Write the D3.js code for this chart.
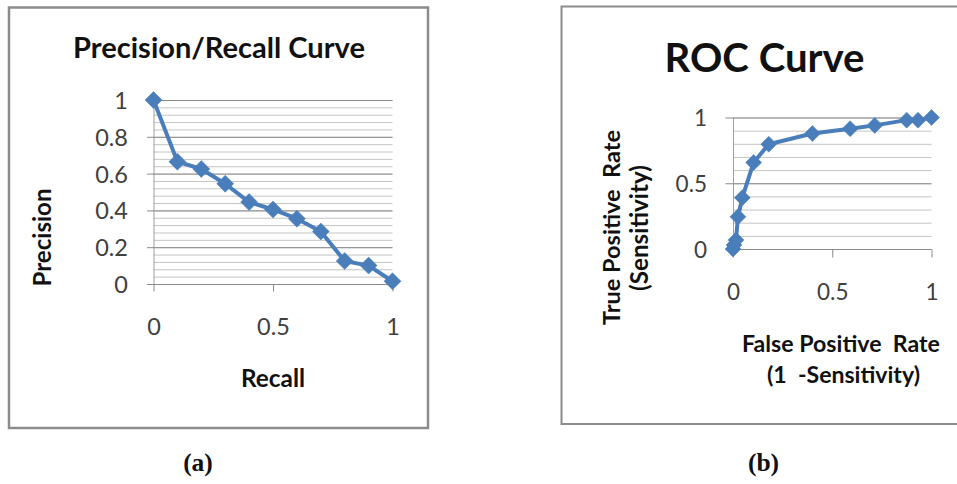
<!DOCTYPE html>
<html>
<head>
<meta charset="utf-8">
<script src="https://cdn.jsdelivr.net/npm/d3@7"></script>
<style>
  html, body { margin: 0; padding: 0; background: #fff; }
  svg { display: block; }
  text { white-space: pre; }
</style>
</head>
<body>
<svg id="fig" width="957" height="484"></svg>
<script>
// ---- data: precision / recall curve ----
const prRecall    = [0, 0.1, 0.2, 0.3, 0.4, 0.5, 0.6, 0.7, 0.8, 0.9, 1.0];
const prPrecision = [1, 0.665, 0.625, 0.545, 0.445, 0.405, 0.355, 0.285, 0.125, 0.10, 0.015];
const prYTicks = [0, 0.2, 0.4, 0.6, 0.8, 1];
const prXTicks = [0, 0.5, 1];

// ---- data: ROC curve ----
const rocFpr = [0, 0.005, 0.015, 0.025, 0.047, 0.104, 0.18, 0.40, 0.59, 0.714, 0.875, 0.932, 1.0];
const rocTpr = [0, 0.03, 0.068, 0.245, 0.39, 0.658, 0.797, 0.878, 0.915, 0.94, 0.98, 0.98, 1.0];
const rocYTicks = [0, 0.5, 1];
const rocXTicks = [0, 0.5, 1];

const BLUE = "#4A7EBB";
const FONT = "Lato, 'Open Sans', sans-serif";
const SERIF = "'Liberation Serif', 'Times New Roman', serif";
const svg = d3.select("#fig");

// set a font size so that the text spans the given width
function fitWidth(sel, width) {
  const node = sel.node();
  const base = parseFloat(sel.attr("font-size"));
  const w = node.getComputedTextLength();
  sel.attr("font-size", (base * width / w).toFixed(2));
  return sel;
}

function label(g, str, x, y, opts) {
  const t = g.append("text")
    .attr("x", x).attr("y", y)
    .attr("text-anchor", opts.anchor || "middle")
    .attr("font-family", opts.family || FONT)
    .attr("font-weight", opts.weight || "bold")
    .attr("font-size", opts.size || 20)
    .attr("fill", opts.fill || "#111")
    .text(str);
  if (opts.rotate) t.attr("transform", `rotate(-90,${x},${y})`);
  if (opts.width) fitWidth(t, opts.width);
  return t;
}

function diamond(r) {
  return `M0,${-r}L${r},0L0,${r}L${-r},0Z`;
}

function drawPanel(cfg) {
  const g = svg.append("g");
  const x = d3.scaleLinear().domain([0, 1]).range([cfg.x0, cfg.x1]);
  const y = d3.scaleLinear().domain([0, 1]).range([cfg.y0, cfg.y1]);

  // frame
  g.append("rect")
    .attr("x", cfg.frame[0]).attr("y", cfg.frame[1])
    .attr("width", cfg.frame[2]).attr("height", cfg.frame[3])
    .attr("fill", "none").attr("stroke", "#8c8c8c").attr("stroke-width", cfg.frameW);

  // minor gridlines
  g.append("g").selectAll("line").data(cfg.minor).join("line")
    .attr("x1", cfg.x0).attr("x2", cfg.x1)
    .attr("y1", d => y(d) + 0.5).attr("y2", d => y(d) + 0.5)
    .attr("stroke", "#c4c4c4").attr("stroke-width", 1);

  // major gridlines
  g.append("g").selectAll("line").data(cfg.yTicks).join("line")
    .attr("x1", cfg.x0).attr("x2", cfg.x1)
    .attr("y1", d => y(d) + 0.5).attr("y2", d => y(d) + 0.5)
    .attr("stroke", "#8a8a8a").attr("stroke-width", 1);

  // vertical axis line
  g.append("line")
    .attr("x1", cfg.x0 + 0.5).attr("x2", cfg.x0 + 0.5)
    .attr("y1", y(1)).attr("y2", y(0))
    .attr("stroke", "#a0a0a0").attr("stroke-width", 1);

  // y axis
  const ya = g.append("g").attr("transform", `translate(${cfg.x0 + 0.5},0)`)
    .call(d3.axisLeft(y).tickValues(cfg.yTicks).tickSize(cfg.tick).tickSizeOuter(0)
      .tickPadding(cfg.yPad).tickFormat(d => String(d)));
  ya.select(".domain").remove();
  ya.selectAll(".tick line").attr("stroke", "#8a8a8a");
  ya.selectAll(".tick").attr("transform", d => `translate(0,${y(d) + 0.5})`);
  ya.selectAll("text").attr("font-family", FONT).attr("font-size", cfg.tickFont)
    .attr("fill", "#404040").attr("dy", "0.36em");

  // x axis
  const xa = g.append("g").attr("transform", `translate(0,${cfg.y0 + 0.5})`)
    .call(d3.axisBottom(x).tickValues(cfg.xTicks).tickSize(cfg.tick).tickSizeOuter(0)
      .tickFormat(d => String(d)));
  xa.select(".domain").remove();
  xa.selectAll(".tick line").attr("stroke", "#8a8a8a");
  xa.selectAll("text").attr("font-family", FONT).attr("font-size", cfg.tickFont)
    .attr("fill", "#404040").attr("y", cfg.xLabelBase).attr("dy", 0);

  // series line + markers
  const pts = cfg.xs.map((v, i) => [v, cfg.ys[i]]);
  g.append("path")
    .datum(pts)
    .attr("d", d3.line().x(d => x(d[0])).y(d => y(d[1])))
    .attr("fill", "none").attr("stroke", BLUE).attr("stroke-width", 4)
    .attr("stroke-linejoin", "round");
  g.append("g").selectAll("path").data(pts).join("path")
    .attr("transform", d => `translate(${x(d[0])},${y(d[1])})`)
    .attr("d", diamond(cfg.marker))
    .attr("fill", BLUE).attr("stroke", BLUE).attr("stroke-width", 0.5);
  return g;
}

// ---- panel (a): precision / recall ----
const ga = drawPanel({
  x0: 153.5, x1: 392.5, y0: 284, y1: 100,
  frame: [9, 7.5, 419, 420.5], frameW: 2.5,
  minor: d3.range(0, 26).map(i => i * 0.04),
  yTicks: prYTicks, xTicks: prXTicks,
  tick: 7, yPad: 19, tickFont: 23.5, xLabelBase: 50,
  xs: prRecall, ys: prPrecision, marker: 8.5
});
label(ga, "Precision/Recall Curve", 219, 58, { width: 292 });
label(ga, "Precision", 51, 237.5, { rotate: true, width: 98 });
label(ga, "Recall", 273, 387, { width: 64 });

// ---- panel (b): ROC ----
const gb = drawPanel({
  x0: 733, x1: 931.5, y0: 249, y1: 117.5,
  frame: [561.5, 6.5, 500, 417.5], frameW: 2,
  minor: d3.range(0, 11).map(i => i * 0.1),
  yTicks: rocYTicks, xTicks: rocXTicks,
  tick: 8, yPad: 18.5, tickFont: 22.5, xLabelBase: 50,
  xs: rocFpr, ys: rocTpr, marker: 8
});
label(gb, "ROC Curve", 764.5, 71.5, { width: 200 });
label(gb, "True Positive  Rate", 620, 227.5, { rotate: true, width: 195 });
label(gb, "(Sensitivity)", 648, 228, { rotate: true, width: 126 });
label(gb, "False Positive  Rate", 841, 352, { width: 198 });
label(gb, "(1  -Sensitivity)", 843.5, 383, { width: 153 });

// ---- sub-figure captions ----
label(svg, "(a)", 198, 471, { family: SERIF, size: 25.5 });
label(svg, "(b)", 763.5, 471, { family: SERIF, size: 25.5 });
</script>
</body>
</html>
